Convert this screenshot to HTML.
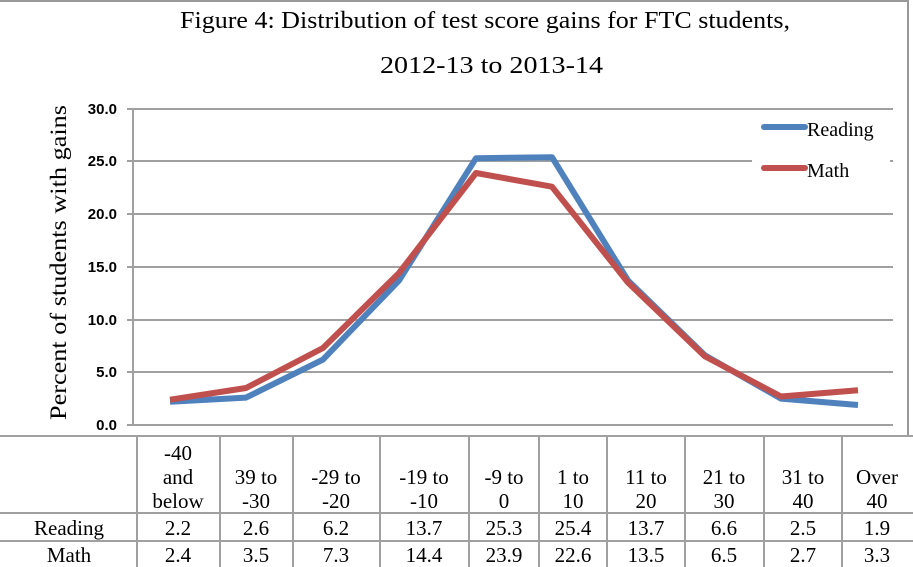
<!DOCTYPE html>
<html><head><style>body{margin:0;background:#fff}svg{display:block}</style></head><body>
<svg width="913" height="567" xmlns="http://www.w3.org/2000/svg">
<rect x="0" y="0" width="913" height="567" fill="#fff"/>
<line x1="0" y1="1" x2="908" y2="1" stroke="#999" stroke-width="2"/>
<line x1="908" y1="0" x2="908" y2="436" stroke="#999" stroke-width="2"/>
<g font-family="Liberation Serif, serif" font-size="24" fill="#000">
<text x="180" y="28" textLength="610" lengthAdjust="spacingAndGlyphs">Figure 4: Distribution of test score gains for FTC students,</text>
<text x="380" y="73" textLength="223" lengthAdjust="spacingAndGlyphs">2012-13 to 2013-14</text>
</g>
<text transform="translate(66,420) rotate(-90)" font-family="Liberation Serif, serif" font-size="23" textLength="315" lengthAdjust="spacingAndGlyphs">Percent of students with gains</text>
<g stroke="#a0a0a0" stroke-width="2">
<line x1="127" y1="109" x2="893" y2="109"/>
<line x1="127" y1="161" x2="893" y2="161"/>
<line x1="127" y1="214" x2="893" y2="214"/>
<line x1="127" y1="267" x2="893" y2="267"/>
<line x1="127" y1="320" x2="893" y2="320"/>
<line x1="127" y1="372" x2="893" y2="372"/>
<line x1="127" y1="425" x2="893" y2="425"/>
<line x1="133" y1="109" x2="133" y2="425"/>
</g>
<g font-family="Liberation Sans, sans-serif" font-size="15" font-weight="bold" text-anchor="end">
<text x="117" y="114">30.0</text><text x="117" y="166">25.0</text><text x="117" y="219">20.0</text>
<text x="117" y="272">15.0</text><text x="117" y="325">10.0</text><text x="117" y="377">5.0</text><text x="117" y="430">0.0</text>
</g>
<polyline fill="none" stroke="#4f81bd" stroke-width="6" stroke-linejoin="round" points="170,401.8 246,397.6 323,359.6 399,280.5 476,158.2 552,157.2 628,280.5 705,355.4 781,398.6 858,405"/>
<polyline fill="none" stroke="#c0504d" stroke-width="6" stroke-linejoin="round" points="170,399.7 246,388 323,348 399,273 476,173 552,186.7 628,282.6 705,356.4 781,396.5 858,390.2"/>
<rect x="752" y="112" width="138" height="72" fill="#fff"/>
<line x1="764" y1="127" x2="805" y2="127" stroke="#4f81bd" stroke-width="6" stroke-linecap="round"/>
<line x1="764" y1="168" x2="805" y2="168" stroke="#c0504d" stroke-width="6" stroke-linecap="round"/>
<g font-family="Liberation Serif, serif" font-size="20"><text x="807" y="136">Reading</text><text x="807" y="177">Math</text></g>
<g stroke="#a0a0a0" stroke-width="2">
<line x1="0" y1="436" x2="913" y2="436"/><line x1="0" y1="513" x2="913" y2="513"/><line x1="0" y1="541" x2="913" y2="541"/>
<line x1="137" y1="436" x2="137" y2="567"/><line x1="220" y1="436" x2="220" y2="567"/><line x1="293" y1="436" x2="293" y2="567"/>
<line x1="380" y1="436" x2="380" y2="567"/><line x1="469" y1="436" x2="469" y2="567"/><line x1="539" y1="436" x2="539" y2="567"/>
<line x1="607" y1="436" x2="607" y2="567"/><line x1="685" y1="436" x2="685" y2="567"/><line x1="764" y1="436" x2="764" y2="567"/>
<line x1="842" y1="436" x2="842" y2="567"/>
</g>
<g font-family="Liberation Serif, serif" font-size="21" text-anchor="middle">
<text x="178" y="460">-40</text><text x="178" y="484">and</text><text x="178" y="508">below</text>
<text x="256" y="484">39 to</text><text x="256" y="508">-30</text>
<text x="336" y="484">-29 to</text><text x="336" y="508">-20</text>
<text x="424" y="484">-19 to</text><text x="424" y="508">-10</text>
<text x="504" y="484">-9 to</text><text x="504" y="508">0</text>
<text x="573" y="484">1 to</text><text x="573" y="508">10</text>
<text x="646" y="484">11 to</text><text x="646" y="508">20</text>
<text x="724" y="484">21 to</text><text x="724" y="508">30</text>
<text x="803" y="484">31 to</text><text x="803" y="508">40</text>
<text x="877" y="484">Over</text><text x="877" y="508">40</text>
<text x="69" y="535">Reading</text>
<text x="178" y="535">2.2</text><text x="256" y="535">2.6</text><text x="336" y="535">6.2</text><text x="424" y="535">13.7</text><text x="504" y="535">25.3</text><text x="573" y="535">25.4</text><text x="646" y="535">13.7</text><text x="724" y="535">6.6</text><text x="803" y="535">2.5</text><text x="877" y="535">1.9</text>
<text x="69" y="562">Math</text>
<text x="178" y="562">2.4</text><text x="256" y="562">3.5</text><text x="336" y="562">7.3</text><text x="424" y="562">14.4</text><text x="504" y="562">23.9</text><text x="573" y="562">22.6</text><text x="646" y="562">13.5</text><text x="724" y="562">6.5</text><text x="803" y="562">2.7</text><text x="877" y="562">3.3</text>
</g>
</svg>
</body></html>
